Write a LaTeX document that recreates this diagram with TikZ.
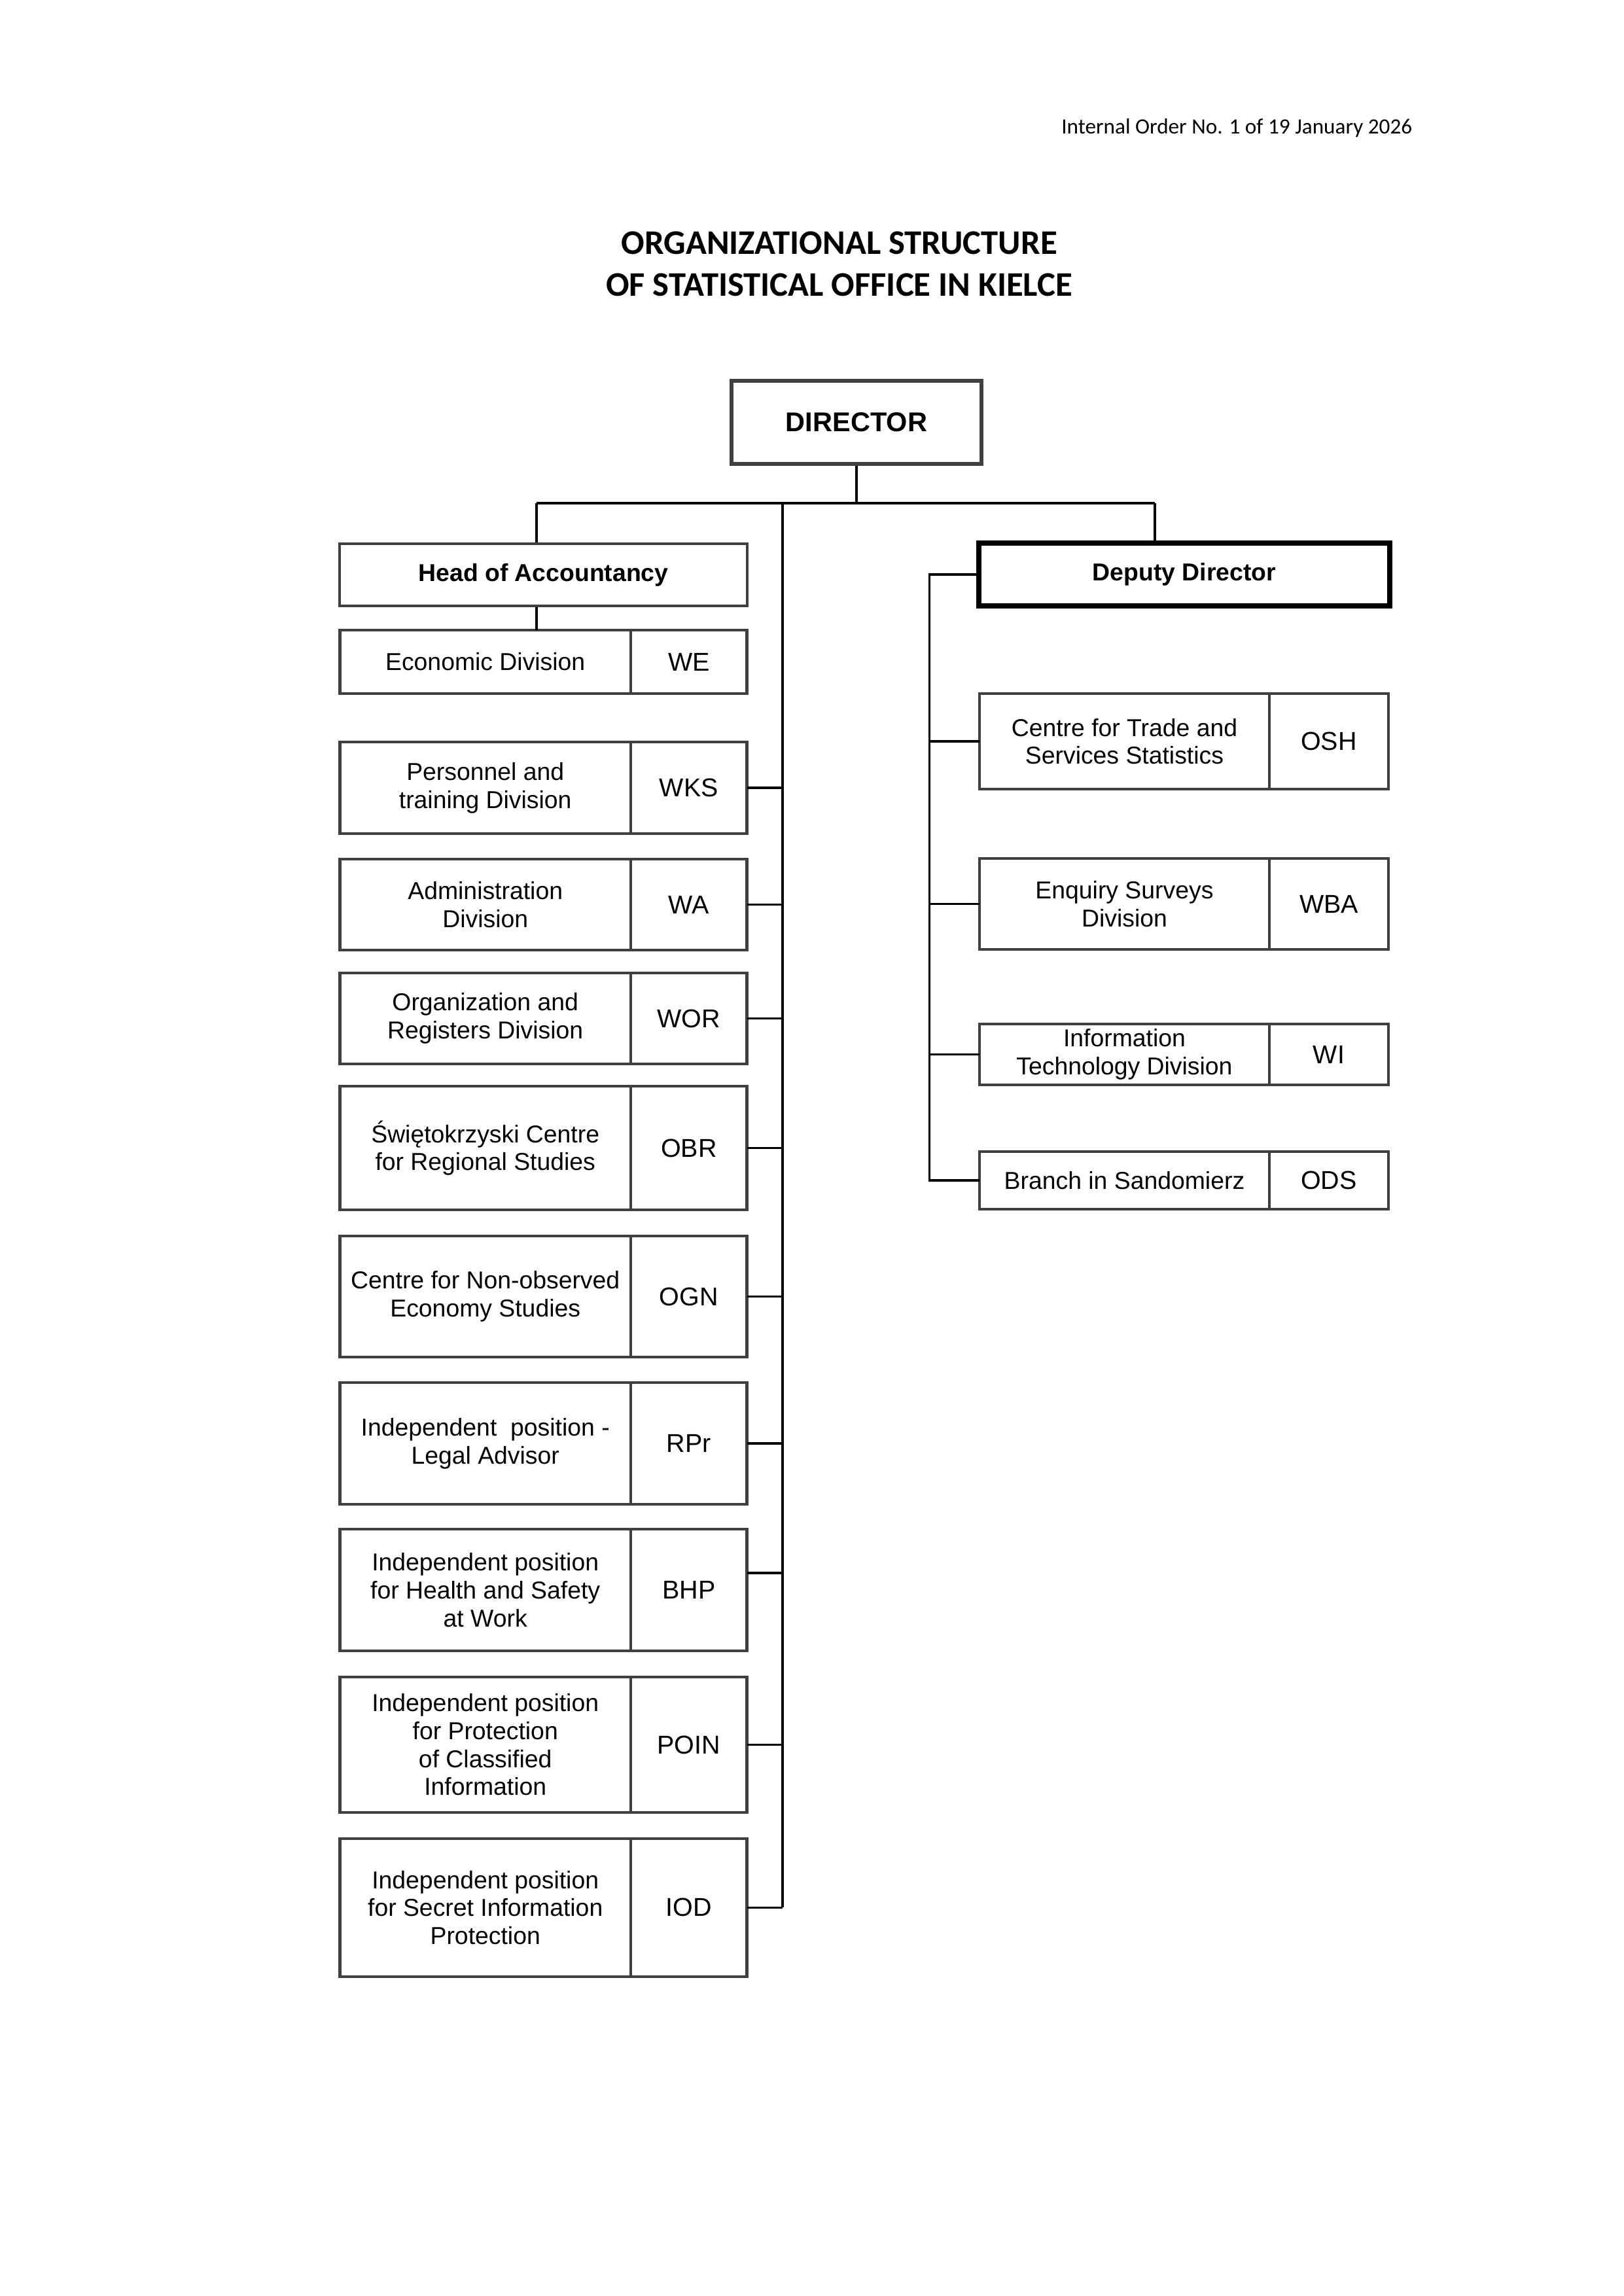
\documentclass[tikz,border=0pt]{standalone}
\usepackage{fontspec}
\setmainfont{Liberation Sans}
\newfontfamily\calibfont{Carlito}
\usetikzlibrary{positioning}

\tikzset{
 unit/.style={draw=black!75, line width=1.1pt, outer sep=0pt, minimum width=37.66mm, inner sep=1pt, align=center, font=\fontsize{9}{10.3}\selectfont},
 code/.style={draw=black!75, line width=1.1pt, outer sep=0pt, minimum width=15.03mm, inner sep=1pt, font=\fontsize{9.5}{11}\selectfont},
 link/.style={draw=black, line width=0.8pt}
}

\begin{document}
\begin{tikzpicture}[x=1mm,y=-1mm]
 \useasboundingbox (0,0) rectangle (210.1,297.1);
 % heading
 \node[anchor=east, inner sep=0pt, font=\calibfont\fontsize{8}{10}\selectfont] (order) at (182.8,16.6) {Internal Order No. 1 of 19 January 2026};
 \node[align=center, inner sep=0pt, font=\calibfont\bfseries\fontsize{12.7}{15.2}\selectfont] (title) at (108.6,34.15) {ORGANIZATIONAL STRUCTURE\\OF STATISTICAL OFFICE IN KIELCE};

 % management
 \node[draw=black!75, line width=1.6pt, minimum width=32.34mm, minimum height=10.75mm, font=\fontsize{10}{12}\selectfont\bfseries] (dir) at (110.83,54.65) {DIRECTOR};
 \node[draw=black!75, line width=1.1pt, minimum width=52.75mm, minimum height=8.04mm, font=\fontsize{9}{11}\selectfont\bfseries] (head) at (70.32,74.38) {Head of Accountancy};
 \node[draw=black, line width=2pt, minimum width=53.17mm, minimum height=8.13mm, font=\fontsize{9}{11}\selectfont\bfseries] (dep) at (153.25,74.34) {Deputy Director};

 % left column
 \node[unit, minimum height=8.21mm] (we) at (62.80,85.64) {Economic Division};
 \node[code, minimum height=8.21mm, right=0pt of we] (wec) {WE};
 \node[unit, minimum height=11.85mm] (wks) at (62.80,101.94) {Personnel and\\training Division};
 \node[code, minimum height=11.85mm, right=0pt of wks] (wksc) {WKS};
 \node[unit, minimum height=11.77mm] (wa) at (62.80,117.05) {Administration\\Division};
 \node[code, minimum height=11.77mm, right=0pt of wa] (wac) {WA};
 \node[unit, minimum height=11.77mm] (wor) at (62.80,131.78) {Organization and\\Registers Division};
 \node[code, minimum height=11.77mm, right=0pt of wor] (worc) {WOR};
 \node[unit, minimum height=16.00mm] (obr) at (62.80,148.55) {Świętokrzyski Centre\\for Regional Studies};
 \node[code, minimum height=16.00mm, right=0pt of obr] (obrc) {OBR};
 \node[unit, minimum height=15.66mm] (ogn) at (62.80,167.77) {Centre for Non-observed\\Economy Studies};
 \node[code, minimum height=15.66mm, right=0pt of ogn] (ognc) {OGN};
 \node[unit, minimum height=15.75mm] (rpr) at (62.80,186.78) {Independent\ \ position -\\Legal Advisor};
 \node[code, minimum height=15.75mm, right=0pt of rpr] (rprc) {RPr};
 \node[unit, minimum height=15.75mm] (bhp) at (62.80,205.74) {Independent position\\for Health and Safety\\at Work};
 \node[code, minimum height=15.75mm, right=0pt of bhp] (bhpc) {BHP};
 \node[unit, minimum height=17.53mm] (poin) at (62.80,225.76) {Independent position\\for Protection\\of Classified\\Information};
 \node[code, minimum height=17.53mm, right=0pt of poin] (poinc) {POIN};
 \node[unit, minimum height=17.86mm] (iod) at (62.80,246.84) {Independent position\\for Secret Information\\Protection};
 \node[code, minimum height=17.86mm, right=0pt of iod] (iodc) {IOD};

 % right column
 \node[unit, minimum width=37.51mm, minimum height=12.36mm] (osh) at (145.50,95.93) {Centre for Trade and\\Services Statistics};
 \node[code, minimum width=15.41mm, minimum height=12.36mm, right=0pt of osh] (oshc) {OSH};
 \node[unit, minimum width=37.51mm, minimum height=11.77mm] (wba) at (145.50,116.97) {Enquiry Surveys\\Division};
 \node[code, minimum width=15.41mm, minimum height=11.77mm, right=0pt of wba] (wbac) {WBA};
 \node[unit, minimum width=37.51mm, minimum height=7.87mm] (wi) at (145.50,136.44) {Information\\Technology Division};
 \node[code, minimum width=15.41mm, minimum height=7.87mm, right=0pt of wi] (wic) {WI};
 \node[unit, minimum width=37.51mm, minimum height=7.45mm] (ods) at (145.50,152.74) {Branch in Sandomierz};
 \node[code, minimum width=15.41mm, minimum height=7.45mm, right=0pt of ods] (odsc) {ODS};

 % connectors
 \coordinate (busl) at (69.43,65.11);
 \coordinate (busr) at (149.44,65.11);
 \coordinate (trunk) at (101.26,65.11);
 \coordinate (rtrunk) at (120.27,74.5);
 \draw[link, line width=1pt] (busl) -- (busr);
 \draw[link] (dir.south) -- (dir.south |- busl);
 \draw[link] (busl) -- (busl |- head.north);
 \draw[link] (busr) -- (busr |- dep.north);
 \draw[link] (busl |- head.south) -- (busl |- we.north);
 \draw[link] (trunk) -- (trunk |- iodc.east);
 \draw[link] (wksc.east) -- (wksc.east -| trunk);
 \draw[link] (wac.east) -- (wac.east -| trunk);
 \draw[link] (worc.east) -- (worc.east -| trunk);
 \draw[link] (obrc.east) -- (obrc.east -| trunk);
 \draw[link] (ognc.east) -- (ognc.east -| trunk);
 \draw[link] (rprc.east) -- (rprc.east -| trunk);
 \draw[link] ([yshift=2.2mm]bhpc.east) -- ([yshift=2.2mm]bhpc.east -| trunk);
 \draw[link] (poinc.east) -- (poinc.east -| trunk);
 \draw[link] (iodc.east) -- (iodc.east -| trunk);
 \draw[link] (dep.west) -- (dep.west -| rtrunk) -- (rtrunk |- ods.west) -- (ods.west);
 \draw[link] (osh.west) -- (osh.west -| rtrunk);
 \draw[link] (wba.west) -- (wba.west -| rtrunk);
 \draw[link] (wi.west) -- (wi.west -| rtrunk);
\end{tikzpicture}
\end{document}
